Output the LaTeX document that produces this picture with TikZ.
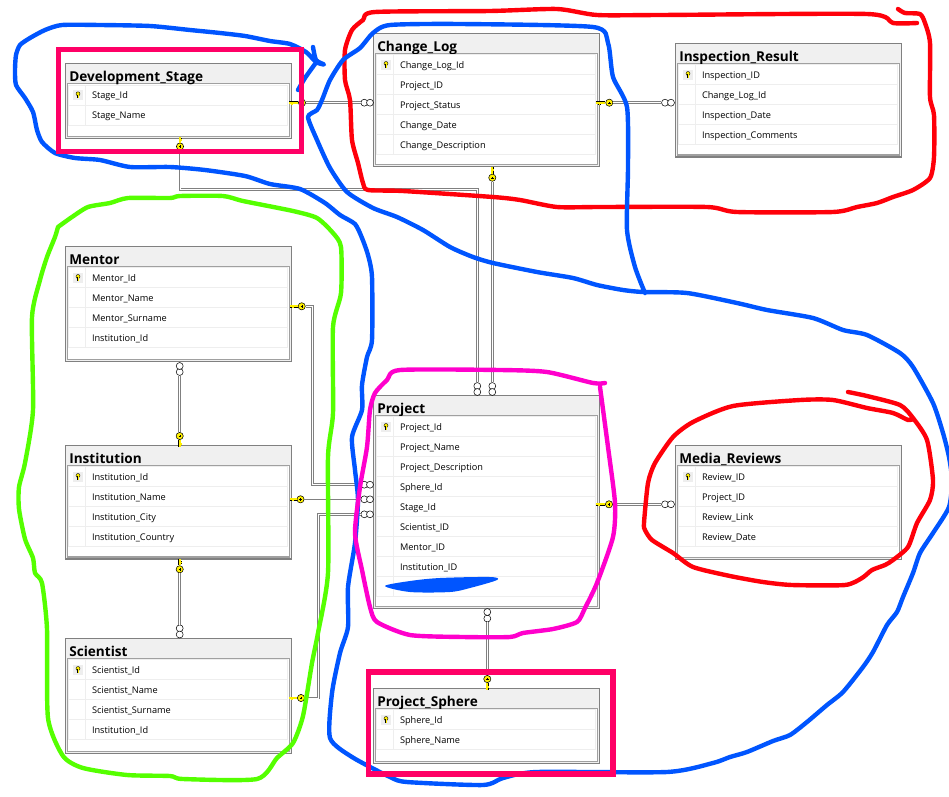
\documentclass[tikz,border=0pt]{standalone}
\usepackage{fontspec}
\setmainfont{Open Sans}
\usepackage{xcolor}
\usepackage{tikz}
\definecolor{boxgray}{RGB}{128,128,128}
\definecolor{innergray}{RGB}{160,160,160}
\definecolor{rowgray}{RGB}{238,238,238}
\definecolor{headgray}{RGB}{240,240,240}
\definecolor{keyyellow}{RGB}{255,240,0}
\definecolor{penblue}{RGB}{0,85,255}
\definecolor{penred}{RGB}{255,0,10}
\definecolor{pengreen}{RGB}{85,255,0}
\definecolor{penmagenta}{RGB}{255,0,204}
\definecolor{penpink}{RGB}{255,0,102}

\begin{document}
\begin{tikzpicture}[
    x=0.75pt, y=-0.75pt,
    % Node styles
    tablebox/.style={rectangle, draw=boxgray, fill=headgray, line width=0.9pt, anchor=north west, inner sep=0pt, outer sep=0pt, minimum width=169.5pt},
    tablebody/.style={rectangle, draw=innergray, fill=white, line width=0.9pt, anchor=north west, inner sep=0pt, outer sep=0pt, minimum width=166.5pt},
    tabletitle/.style={anchor=base west, inner sep=0pt, font=\fontsize{10.2}{12}\selectfont\bfseries},
    field/.style={rectangle, draw=rowgray, line width=0.6pt, anchor=west, inner xsep=17.4pt, inner ysep=0pt, minimum height=15pt, text width=129.45pt, align=left, text height=6.6pt, text depth=1.4pt, font=\fontsize{6.9}{8}\selectfont},
    pkcell/.style={rectangle, fill=rowgray, inner sep=0pt, minimum width=7.5pt, minimum height=7.5pt,
        path picture={
            \fill[keyyellow, draw=black, line width=0.3pt] ([yshift=0.9pt]path picture bounding box.center) circle (1.5pt);
            \draw[black, line width=0.9pt] ([yshift=0.2pt]path picture bounding box.center) -- ([yshift=-2.6pt]path picture bounding box.center);
            \draw[keyyellow, line width=0.4pt] ([yshift=0.2pt]path picture bounding box.center) -- ([yshift=-2.2pt]path picture bounding box.center);
        }},
    keyhead/.style={circle, draw=black, fill=keyyellow, line width=0.4pt, inner sep=0pt, minimum size=5.4pt,
        path picture={
            \draw[black, line width=0.3pt] ([xshift=-0.9pt]path picture bounding box.center) -- ([xshift=0.9pt]path picture bounding box.center);
            \draw[black, line width=0.3pt] ([yshift=-0.9pt]path picture bounding box.center) -- ([yshift=0.9pt]path picture bounding box.center);
        }},
    manyend/.style={circle, draw=black, fill=white, line width=0.4pt, inner sep=0pt, minimum size=5.2pt},
    % Edge styles
    rel/.style={draw=boxgray, line width=0.6pt, double=white, double distance=0.75pt},
    relsingle/.style={draw=boxgray, line width=1.1pt},
    keystem/.style={draw=black, line width=0.3pt, double=keyyellow, double distance=1.3pt},
    rowline/.style={draw=rowgray, line width=0.6pt},
    % Marker pen styles
    scribble/.style={line width=3.3pt, line join=round, line cap=round},
    markbox/.style={draw=penpink, line width=3.8pt}
]
\useasboundingbox (0,0) rectangle (949,796);

% Development_Stage
\node[tablebox, minimum height=56.25pt] (dev) at (65.7,63.3) {};
\node[tablebody, minimum height=39.75pt] (devbody) at (67.7,83.3) {};
\node[tabletitle] (devtitle) at (69,81.3) {Development\_Stage};
\node[field] (dev1) at (68.4,95) {Stage\_Id};
\node[field] (dev2) at (68.4,115) {Stage\_Name};
\node[pkcell] (devpk) at (78,95) {};
\draw[rowline] (85.7,85) -- (85.7,125);

% Change_Log
\node[tablebox, minimum height=100pt] (log) at (373.7,33.3) {};
\node[tablebody, minimum height=83.5pt] (logbody) at (375.7,53.3) {};
\node[tabletitle] (logtitle) at (377,51.3) {Change\_Log};
\node[field] (log1) at (376.4,64.7) {Change\_Log\_Id};
\node[field] (log2) at (376.4,84.7) {Project\_ID};
\node[field] (log3) at (376.4,104.7) {Project\_Status};
\node[field] (log4) at (376.4,124.7) {Change\_Date};
\node[field] (log5) at (376.4,144.7) {Change\_Description};
\node[pkcell] (logpk) at (386,64.7) {};
\draw[rowline] (393.7,54.7) -- (393.7,154.7);

% Inspection_Result
\node[tablebox, minimum height=85.3pt] (insp) at (675.7,43.3) {};
\node[tablebody, minimum height=68.8pt] (inspbody) at (677.7,63.3) {};
\node[tabletitle] (insptitle) at (679,61.3) {Inspection\_Result};
\node[field] (insp1) at (678.4,74.7) {Inspection\_ID};
\node[field] (insp2) at (678.4,94.7) {Change\_Log\_Id};
\node[field] (insp3) at (678.4,114.7) {Inspection\_Date};
\node[field] (insp4) at (678.4,134.7) {Inspection\_Comments};
\node[pkcell] (insppk) at (688,74.7) {};
\draw[rowline] (695.7,64.7) -- (695.7,144.7);

% Mentor
\node[tablebox, minimum height=86pt] (ment) at (65.7,246.7) {};
\node[tablebody, minimum height=69.5pt] (mentbody) at (67.7,266.7) {};
\node[tabletitle] (menttitle) at (69,264.7) {Mentor};
\node[field] (ment1) at (68.4,277.7) {Mentor\_Id};
\node[field] (ment2) at (68.4,297.7) {Mentor\_Name};
\node[field] (ment3) at (68.4,317.7) {Mentor\_Surname};
\node[field] (ment4) at (68.4,337.7) {Institution\_Id};
\node[pkcell] (mentpk) at (78,277.7) {};
\draw[rowline] (85.7,267.7) -- (85.7,347.7);

% Institution
\node[tablebox, minimum height=85pt] (inst) at (65.7,445.7) {};
\node[tablebody, minimum height=68.5pt] (instbody) at (67.7,465.7) {};
\node[tabletitle] (insttitle) at (69,463.7) {Institution};
\node[field] (inst1) at (68.4,476.7) {Institution\_Id};
\node[field] (inst2) at (68.4,496.7) {Institution\_Name};
\node[field] (inst3) at (68.4,516.7) {Institution\_City};
\node[field] (inst4) at (68.4,536.7) {Institution\_Country};
\node[pkcell] (instpk) at (78,476.7) {};
\draw[rowline] (85.7,466.7) -- (85.7,546.7);

% Scientist
\node[tablebox, minimum height=86pt] (sci) at (65.7,638.7) {};
\node[tablebody, minimum height=69.5pt] (scibody) at (67.7,658.7) {};
\node[tabletitle] (scititle) at (69,656.7) {Scientist};
\node[field] (sci1) at (68.4,669.7) {Scientist\_Id};
\node[field] (sci2) at (68.4,689.7) {Scientist\_Name};
\node[field] (sci3) at (68.4,709.7) {Scientist\_Surname};
\node[field] (sci4) at (68.4,729.7) {Institution\_Id};
\node[pkcell] (scipk) at (78,669.7) {};
\draw[rowline] (85.7,659.7) -- (85.7,739.7);

% Project
\node[tablebox, minimum height=159.5pt] (proj) at (373.7,395.7) {};
\node[tablebody, minimum height=143pt] (projbody) at (375.7,415.7) {};
\node[tabletitle] (projtitle) at (377,413.7) {Project};
\node[field] (proj1) at (376.4,426.7) {Project\_Id};
\node[field] (proj2) at (376.4,446.7) {Project\_Name};
\node[field] (proj3) at (376.4,466.7) {Project\_Description};
\node[field] (proj4) at (376.4,486.7) {Sphere\_Id};
\node[field] (proj5) at (376.4,506.7) {Stage\_Id};
\node[field] (proj6) at (376.4,526.7) {Scientist\_ID};
\node[field] (proj7) at (376.4,546.7) {Mentor\_ID};
\node[field] (proj8) at (376.4,566.7) {Institution\_ID};
\node[field] (proj9) at (376.4,586.7) {};
\node[pkcell] (projpk) at (386,426.7) {};
\draw[rowline] (393.7,416.7) -- (393.7,596.7);

% Media_Reviews
\node[tablebox, minimum height=85.2pt] (media) at (675.7,445.7) {};
\node[tablebody, minimum height=68.7pt] (mediabody) at (677.7,465.7) {};
\node[tabletitle] (mediatitle) at (679,463.7) {Media\_Reviews};
\node[field] (media1) at (678.4,476.7) {Review\_ID};
\node[field] (media2) at (678.4,496.7) {Project\_ID};
\node[field] (media3) at (678.4,516.7) {Review\_Link};
\node[field] (media4) at (678.4,536.7) {Review\_Date};
\node[pkcell] (mediapk) at (688,476.7) {};
\draw[rowline] (695.7,466.7) -- (695.7,546.7);

% Project_Sphere
\node[tablebox, minimum height=56pt] (sphere) at (373.7,688.7) {};
\node[tablebody, minimum height=39.5pt] (spherebody) at (375.7,708.7) {};
\node[tabletitle] (spheretitle) at (377,706.7) {Project\_Sphere};
\node[field] (sphere1) at (376.4,719.7) {Sphere\_Id};
\node[field] (sphere2) at (376.4,739.7) {Sphere\_Name};
\node[pkcell] (spherepk) at (386,719.7) {};
\draw[rowline] (393.7,709.7) -- (393.7,749.7);

% Key ends
\node[keyhead] (kdevright) at (302,102.7) {};
\node[keyhead] (kdevdown) at (180,146.5) {};
\node[keyhead] (klogright) at (609.3,102.7) {};
\node[keyhead] (klogdown) at (492.3,177.7) {};
\node[keyhead] (kmentright) at (301.7,306.3) {};
\node[keyhead] (kinsttop) at (179.7,436) {};
\node[keyhead] (kinstright) at (300.5,499.3) {};
\node[keyhead] (kinstdown) at (179.7,569.3) {};
\node[keyhead] (kprojright) at (609,504.3) {};
\node[keyhead] (kscience) at (301,698) {};
\node[keyhead] (kspheretop) at (487.3,679) {};

\draw[keystem] (kdevright.west) -- ++(-9,0) ++(3,0) -- ++(0,2);
\draw[keystem] (kdevdown.north) -- ++(0,-6) ++(0,3) -- ++(2,0);
\draw[keystem] (klogright.west) -- ++(-9,0) ++(3,0) -- ++(0,2);
\draw[keystem] (klogdown.north) -- ++(0,-7) ++(0,3) -- ++(2,0);
\draw[keystem] (kmentright.west) -- ++(-8,0) ++(3,0) -- ++(0,2);
\draw[keystem] (kinsttop.south) -- ++(0,7) ++(0,-3) -- ++(2,0);
\draw[keystem] (kinstright.west) -- ++(-7,0) ++(3,0) -- ++(0,2);
\draw[keystem] (kinstdown.north) -- ++(0,-6) ++(0,3) -- ++(2,0);
\draw[keystem] (kprojright.west) -- ++(-9,0) ++(3,0) -- ++(0,2);
\draw[keystem] (kscience.west) -- ++(-8,0) ++(3,0) -- ++(0,2);
\draw[keystem] (kspheretop.south) -- ++(0,7) ++(0,-3) -- ++(2,0);

% Many ends
\node[manyend] (mlogleft) at (364.3,102.7) {};
\node[manyend] (mlogleftb) at (370,102.7) {};
\node[manyend] (minspleft) at (665,102.7) {};
\node[manyend] (minspleftb) at (671,102.7) {};
\node[manyend] (mmedialeft) at (665,504.3) {};
\node[manyend] (mmedialeftb) at (671,504.3) {};
\node[manyend] (mmentdown) at (179.7,372) {};
\node[manyend] (mmentdownb) at (179.7,366) {};
\node[manyend] (mscitop) at (179.7,628.3) {};
\node[manyend] (mscitopb) at (179.7,634.5) {};
\node[manyend] (mprojtopa) at (477.3,386) {};
\node[manyend] (mprojtopab) at (477.3,392) {};
\node[manyend] (mprojtopb) at (492.3,386) {};
\node[manyend] (mprojtopbb) at (492.3,392) {};
\node[manyend] (mprojleftm) at (364.3,484.7) {};
\node[manyend] (mprojleftmb) at (370,484.7) {};
\node[manyend] (mprojlefti) at (364.3,499.3) {};
\node[manyend] (mprojleftib) at (370,499.3) {};
\node[manyend] (mprojlefts) at (364.3,514.3) {};
\node[manyend] (mprojleftsb) at (370,514.3) {};
\node[manyend] (mprojdown) at (487.3,618.5) {};
\node[manyend] (mprojdownb) at (487.3,612) {};

% Bends
\coordinate (bendstage) at (477.3,189.5);
\coordinate (bendment) at (312.7,484.7);
\coordinate (bendsci) at (318.7,514.3);

% Draw all connectors
\draw[rel] (kdevright) -- (mlogleft);
\draw[rel] (kdevdown) |- (bendstage) -- (mprojtopa);
\draw[rel] (klogright) -- (minspleft);
\draw[rel] (klogdown) -- (mprojtopb);
\draw[rel] (kmentright) -| (bendment) -- (mprojleftm);
\draw[relsingle] (kinstright) -- (mprojlefti);
\draw[rel] (kscience) -| (bendsci) -- (mprojlefts);
\draw[rel] (mmentdown) -- (kinsttop);
\draw[rel] (kinstdown) -- (mscitop);
\draw[rel] (kprojright) -- (mmedialeft);
\draw[rel] (mprojdown) -- (kspheretop);

% Red pen
\draw[scribble, penred] plot[smooth, tension=0.4] coordinates {(898,9) (905,13) (920,14) (925,23) (930,43) (930,97) (934,115) (934,157) (930,178) (913,190) (893,197) (877,203) (857,207) (833,212) (737,212) (707,207) (600,207) (557,207) (520,200) (493,197) (403,191) (368,190) (363,183) (358,163) (352,140) (350,100) (345,80) (345,50) (352,30) (363,20) (375,12) (490,11) (557,9) (597,15) (660,15) (867,14) (893,23) (917,23)};
\draw[scribble, penred] plot[smooth, tension=0.4] coordinates {(848,392) (867,396) (900,405) (913,418) (927,440) (933,480) (930,500) (917,523) (908,547) (893,560) (885,565) (872,570) (862,578) (845,585) (792,585) (763,582) (730,576) (693,567) (673,553) (652,540) (645,530) (644,523) (648,483) (655,463) (673,437) (693,422) (733,406) (800,400) (833,400) (867,408) (893,413) (908,420) (913,419)};

% Blue pen
\draw[scribble, penblue] plot[smooth, tension=0.4] coordinates {(313,47) (316,60) (324,64.5) (316,62) (306,52) (290,44) (270,41) (245,36) (220,33) (190,30) (150,26) (100,25) (62,25) (45,30) (30,38) (20,45) (16,55) (15,70) (16,85) (25,98) (33,112) (37,130) (42,142) (55,153) (75,158) (100,160) (130,167) (170,167) (205,170) (245,176) (270,184) (300,189) (325,203) (340,215) (355,224) (362,238) (368,255) (372,277) (372,340) (367,357) (362,385) (362,410) (352,437) (355,470) (358,500) (355,543) (348,587) (348,627) (340,653) (332,693) (330,738) (352,757) (390,777) (407,782) (483,785) (503,778) (537,772) (667,772) (713,763) (730,757) (747,752) (773,741) (790,735) (807,722) (827,705) (843,692) (863,667) (873,652) (887,625) (897,612) (903,597) (913,573) (920,553) (933,533) (949,507) (952,480) (949,457) (943,433) (933,403) (913,367) (900,353) (867,335) (843,330) (813,318) (767,310) (737,303) (687,293) (643,292) (623,290) (597,285) (573,278) (537,272) (493,263) (473,257) (450,247) (423,230) (397,217) (373,208) (347,192) (330,168) (317,140) (308,117) (317,110) (322,100) (330,80) (343,60) (360,48) (373,33) (390,25) (460,24) (593,27) (608,43) (613,77) (627,107) (628,167) (627,230) (635,267) (645,293)};
\draw[scribble, penblue] plot[smooth, tension=0.4] coordinates {(315,64) (305,78) (298,90)};
\fill[penblue] plot[smooth cycle, tension=0.5] coordinates {(385,586) (410,581) (440,578) (490,577) (497,580) (470,588) (450,592) (410,592)};

% Green pen
\draw[scribble, pengreen] plot[smooth, tension=0.4] coordinates {(58,227) (72,217) (88,207) (110,203) (128,198) (170,198) (180,196) (223,196) (243,201) (293,211) (317,218) (333,233) (341,247) (341,293) (333,327) (333,413) (328,457) (328,573) (318,633) (312,663) (303,716) (293,743) (277,758) (257,779) (183,779) (170,776) (127,775) (83,768) (63,756) (48,718) (47,629) (42,583) (35,573) (33,558) (25,539) (19,509) (19,487) (25,463) (33,410) (32,317) (40,280) (47,257) (55,237) (58,227)};

% Magenta pen
\draw[scribble, penmagenta] plot[smooth, tension=0.4] coordinates {(605,383) (593,383) (547,372) (500,370) (400,370) (387,380) (375,393) (370,410) (367,447) (360,487) (355,533) (362,570) (370,607) (377,622) (410,635) (463,637) (510,637) (523,633) (553,629) (577,622) (585,608) (597,583) (613,537) (615,503) (608,447) (600,387)};

% Pink boxes
\draw[markbox] (58.5,49.5) rectangle (301.5,151.5);
\draw[markbox] (368.5,672) rectangle (613,774);

\end{tikzpicture}
\end{document}
